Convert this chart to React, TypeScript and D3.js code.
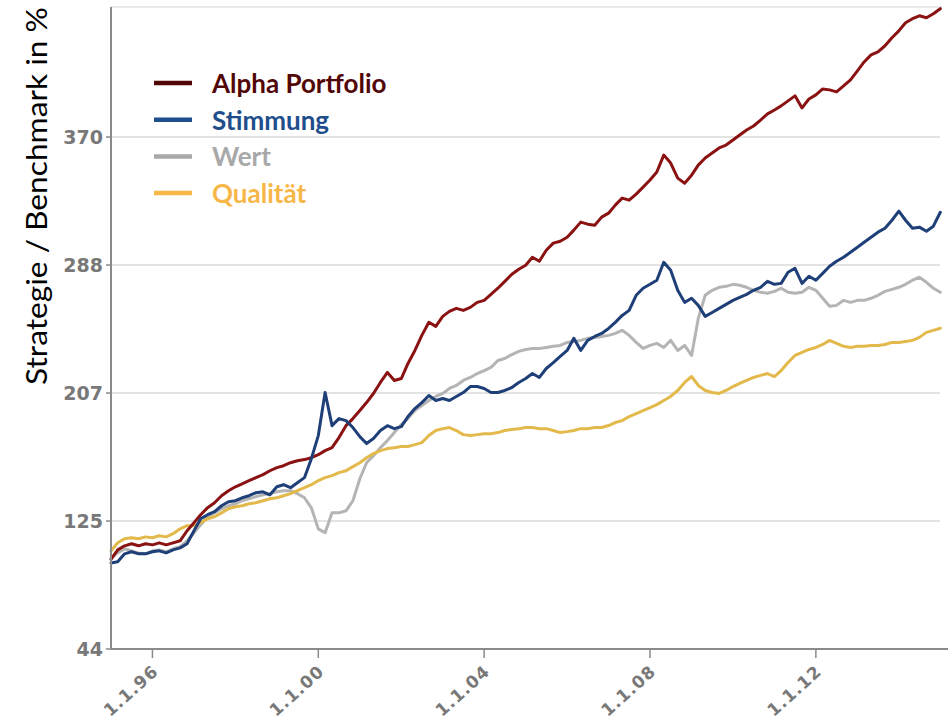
import React from "react";
import * as d3 from "d3";

// Bi-monthly observation dates, Jan 1995 .. Jan 2015 (121 points)
const dates: Date[] = d3.timeMonth.range(new Date(1995, 0, 1), new Date(2015, 1, 1), 2);

const alphaPortfolio = [
  101.0, 107.1, 109.7, 111.0, 109.7, 111.0, 110.3, 111.6, 110.3, 111.6, 112.9, 119.3,
  124.4, 129.5, 134.0, 137.1, 141.6, 144.8, 147.3, 149.2, 151.2, 153.1, 155.0, 157.5,
  159.5, 160.7, 162.6, 163.9, 164.6, 165.8, 167.7, 170.3, 172.2, 178.6, 186.2, 190.7,
  195.8, 200.9, 206.7, 213.7, 220.1, 215.0, 216.2, 225.8, 234.1, 243.7, 252.0, 249.4,
  255.8, 259.0, 260.9, 259.6, 261.5, 264.7, 266.0, 269.8, 273.7, 278.1, 282.6, 285.8,
  288.3, 293.4, 290.9, 297.9, 302.4, 303.6, 306.2, 310.7, 315.8, 314.5, 313.8, 319.0,
  321.5, 326.6, 331.1, 329.8, 333.6, 338.1, 342.6, 347.7, 358.5, 353.4, 343.8, 340.6,
  345.7, 352.1, 356.6, 359.8, 363.0, 364.9, 368.1, 371.3, 374.5, 377.0, 380.8, 384.7,
  387.2, 389.8, 393.0, 396.2, 388.5, 394.2, 396.8, 400.6, 400.0, 398.7, 402.5, 406.4,
  412.1, 417.8, 422.3, 424.2, 428.1, 433.2, 437.6, 442.7, 445.3, 447.2, 445.9, 448.5,
  451.7,
];

const stimmung = [
  98.8, 99.5, 104.6, 105.9, 104.6, 104.6, 105.9, 106.5, 105.2, 107.1, 108.4, 111.0,
  119.3, 126.9, 129.5, 131.4, 135.2, 137.8, 138.4, 140.3, 141.6, 143.5, 144.1, 142.2,
  147.3, 148.6, 146.7, 149.9, 153.1, 165.2, 179.9, 207.3, 186.2, 190.7, 189.4, 185.0,
  179.2, 174.8, 178.0, 183.1, 186.2, 184.3, 185.6, 192.0, 197.1, 200.9, 205.4, 202.2,
  203.5, 202.2, 204.8, 207.3, 211.1, 211.1, 209.9, 207.3, 207.3, 208.6, 210.5, 213.7,
  216.2, 219.4, 216.9, 222.6, 226.4, 230.3, 234.1, 241.8, 234.1, 240.5, 243.0, 244.9,
  248.1, 252.0, 256.4, 259.6, 269.2, 273.7, 276.2, 278.8, 290.2, 285.1, 272.4, 264.7,
  267.3, 262.8, 255.8, 258.3, 260.9, 263.4, 266.0, 267.9, 269.8, 272.4, 274.3, 278.1,
  276.2, 276.8, 283.9, 286.4, 276.8, 281.3, 278.8, 283.2, 287.7, 290.9, 293.4, 296.6,
  299.8, 303.0, 306.2, 309.4, 311.9, 317.0, 322.8, 317.0, 311.9, 312.6, 310.0, 313.2,
  322.1,
];

const wert = [
  102.0, 105.2, 107.8, 106.5, 105.2, 104.6, 106.5, 107.1, 105.9, 107.8, 109.1, 112.9,
  118.0, 123.1, 128.2, 130.7, 133.3, 135.2, 136.5, 138.4, 139.7, 141.0, 142.2, 142.9,
  144.1, 144.8, 144.8, 142.9, 140.3, 133.9, 120.5, 118.0, 130.7, 130.7, 132.0, 138.4,
  152.4, 162.6, 167.1, 172.2, 176.7, 181.8, 186.9, 190.7, 195.8, 199.0, 202.2, 204.8,
  206.7, 209.9, 211.8, 215.0, 216.9, 219.4, 221.3, 223.3, 227.7, 229.0, 231.5, 233.5,
  234.7, 235.4, 235.4, 236.0, 236.7, 237.3, 239.2, 239.8, 240.5, 241.8, 242.4, 243.0,
  243.7, 245.0, 246.9, 243.7, 239.2, 235.4, 237.3, 238.6, 236.0, 240.5, 234.1, 237.3,
  230.9, 254.5, 269.2, 272.4, 274.3, 274.9, 276.2, 275.6, 274.3, 272.4, 271.1, 270.5,
  271.7, 273.7, 271.1, 270.5, 271.1, 274.3, 272.4, 267.3, 262.2, 262.8, 266.0, 264.7,
  266.0, 266.0, 267.3, 269.2, 271.7, 273.0, 274.3, 276.2, 278.8, 280.7, 277.5, 273.7,
  271.1,
];

const qualitaet = [
  106.5, 111.6, 114.2, 114.8, 114.2, 115.4, 114.8, 116.1, 115.4, 117.4, 120.5, 122.5,
  122.5, 124.4, 126.9, 128.2, 130.7, 133.3, 134.6, 135.2, 136.5, 137.1, 138.4, 139.7,
  140.3, 141.6, 142.9, 144.8, 146.7, 148.6, 151.2, 153.1, 154.4, 156.3, 157.5, 160.1,
  162.6, 165.8, 168.4, 170.3, 171.6, 172.2, 172.9, 172.9, 174.1, 175.4, 179.9, 183.1,
  184.3, 185.0, 183.1, 180.5, 179.9, 180.5, 181.1, 181.1, 181.8, 183.1, 183.7, 184.3,
  185.0, 185.0, 184.3, 184.3, 183.1, 181.8, 182.4, 183.1, 184.3, 184.3, 185.0, 185.0,
  186.3, 188.2, 189.4, 192.0, 193.9, 195.8, 197.7, 199.6, 202.2, 204.8, 208.6, 213.7,
  217.5, 211.8, 208.6, 207.3, 206.7, 208.6, 211.1, 213.1, 215.0, 216.9, 218.2, 219.4,
  217.5, 221.3, 226.4, 230.9, 232.8, 234.7, 236.0, 237.9, 240.5, 238.6, 236.7, 236.0,
  236.7, 236.7, 237.3, 237.3, 237.9, 239.2, 239.2, 239.8, 240.5, 242.4, 245.6, 246.9,
  248.2,
];

const seriesNames = ["Alpha Portfolio", "Stimmung", "Wert", "Qualität"];
const lineColors = ["#8a1212", "#1e3f78", "#b4b4b4", "#e2b94a"];
const legendColors = ["#520707", "#1f4e8c", "#a8a8a8", "#f7b748"];

const yTickValues = [44, 125.5, 207, 288.5, 370];
const yTickLabels = ["44", "125", "207", "288", "370"];
const xTickDates = [new Date(1996, 0, 1), new Date(2000, 0, 1), new Date(2004, 0, 1), new Date(2008, 0, 1), new Date(2012, 0, 1)];
const xTickLabels = ["1.1.96", "1.1.00", "1.1.04", "1.1.08", "1.1.12"];

const yTitle = "Strategie / Benchmark in %";

export default function App() {
  const W = 951;
  const H = 721;
  const left = 111;
  const right = 947;
  const bottom = 649;
  const top = 7;

  const x = d3.scaleTime().domain([new Date(1995, 0, 1), new Date(2015, 2, 1)]).range([left, right]);
  const y = d3.scaleLinear().domain([44, 370]).range([bottom, 137]);

  const allSeries = [alphaPortfolio, stimmung, wert, qualitaet];
  const line = d3
    .line<number>()
    .x((_, i) => x(dates[i]))
    .y((d) => y(d))
    .curve(d3.curveLinear);

  // draw order: Wert, Qualität, Alpha, Stimmung
  const drawOrder = [2, 3, 0, 1];

  const gridColor = "#e3e3e3";
  const axisColor = "#8a8a8a";
  const tickTextColor = "#787878";

  return (
    <svg
      width={W}
      height={H}
      style={{ position: "absolute", left: 0, top: 0, background: "#ffffff" }}
    >
      <rect x={0} y={0} width={W} height={H} fill="#ffffff" />
      {/* top border line */}
      <line x1={left} x2={right - 5} y1={top} y2={top} stroke={gridColor} strokeWidth={1.5} />
      {/* gridlines */}
      {yTickValues.slice(1).map((v, i) => (
        <line key={"g" + i} x1={left} x2={right - 7} y1={y(v)} y2={y(v)} stroke={gridColor} strokeWidth={1.8} />
      ))}

      {/* series */}
      {drawOrder.map((si) => (
        <path
          key={"s" + si}
          d={line(allSeries[si]) || ""}
          fill="none"
          stroke={lineColors[si]}
          strokeWidth={3}
          strokeLinejoin="round"
          strokeLinecap="round"
        />
      ))}

      {/* axes */}
      <line x1={left} x2={left} y1={top} y2={bottom} stroke={axisColor} strokeWidth={2} />
      <line x1={left} x2={right + 1} y1={bottom} y2={bottom} stroke={axisColor} strokeWidth={2} />

      {yTickValues.map((v, i) => (
        <g key={"yt" + i}>
          <line x1={left - 5} x2={left} y1={y(v)} y2={y(v)} stroke={axisColor} strokeWidth={1.5} />
          <text
            x={left - 8}
            y={y(v) + 7}
            textAnchor="end"
            fontFamily="DejaVu Sans, sans-serif"
            fontWeight="bold"
            fontSize={19}
            fill={tickTextColor}
          >
            {yTickLabels[i]}
          </text>
        </g>
      ))}

      {xTickDates.map((d, i) => (
        <g key={"xt" + i}>
          <line x1={x(d)} x2={x(d)} y1={bottom} y2={bottom + 9} stroke={axisColor} strokeWidth={1.5} />
          <text
            transform={`translate(${x(d) + 7},${bottom + 24}) rotate(-42)`}
            textAnchor="end"
            fontFamily="DejaVu Sans, sans-serif"
            fontWeight="bold"
            fontSize={17}
            letterSpacing={1}
            fill={tickTextColor}
          >
            {xTickLabels[i]}
          </text>
        </g>
      ))}

      {/* y title */}
      <text
        transform={`translate(47,196) rotate(-90)`}
        textAnchor="middle"
        fontFamily="Lato, sans-serif"
        fontSize={29}
        textLength={378}
        lengthAdjust="spacingAndGlyphs"
        fill="#000000"
      >
        {yTitle}
      </text>

      {/* legend */}
      {seriesNames.map((name, i) => {
        const ly = 83 + i * 36.7;
        return (
          <g key={"lg" + i}>
            <line x1={154} x2={192} y1={ly} y2={ly} stroke={legendColors[i]} strokeWidth={4.5} />
            <text
              x={212}
              y={ly + 10}
              fontFamily="Lato, sans-serif"
              fontWeight="bold"
              fontSize={26}
              fill={legendColors[i]}
            >
              {name}
            </text>
          </g>
        );
      })}
    </svg>
  );
}
